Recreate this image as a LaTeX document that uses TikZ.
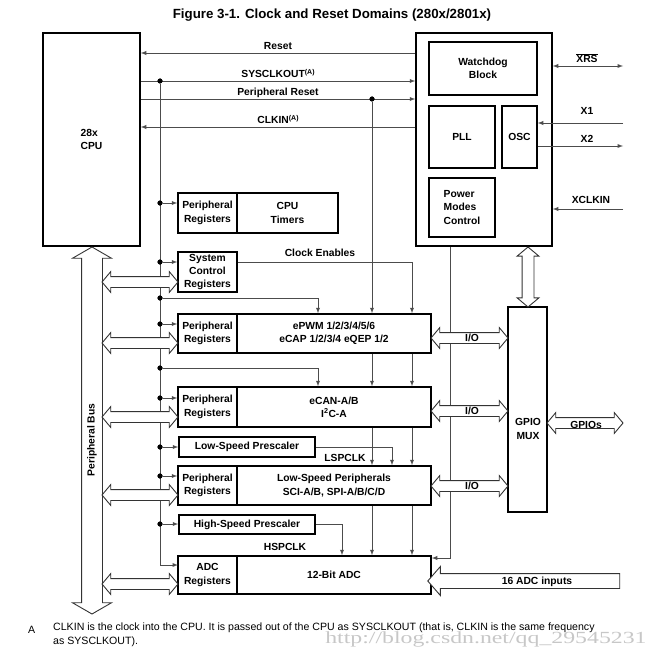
\documentclass[tikz,border=0pt]{standalone}
\usepackage{fontspec}
\setmainfont{Liberation Sans}
\newfontfamily\markfont{Liberation Serif}
\usetikzlibrary{arrows, shapes.arrows, calc}
\tikzstyle{block} = [rectangle, 
draw=black, 
line width=1.5pt, 
inner sep=0pt, 
align=center, 
font=\fontsize{10.3}{13.3}\selectfont\bfseries]
\tikzstyle{txt} = [inner sep=0pt, 
font=\fontsize{10.3}{12}\selectfont\bfseries]
\tikzstyle{wire} = [draw=black!70, line width=0.9pt]
\tikzstyle{arrow} = [wire, ->, >=latex]
\tikzstyle{darrow} = [wire, <->, >=latex]
\tikzstyle{dot} = [circle, fill=black, inner sep=0pt, minimum size=5pt]
\tikzstyle{hollow} = [double arrow, 
draw=black!80, 
line width=0.9pt, 
fill=white, 
inner sep=5pt, 
minimum width=0pt, 
double arrow head extend=5pt, 
double arrow tip angle=100]
\newcommand{\supA}{\raisebox{0.5ex}{\fontsize{7}{7}\selectfont(A)}}

\begin{document}
\begin{tikzpicture}[x=1pt, y=-1pt]
	\useasboundingbox (0,0) rectangle (655,658);
	\node (title) [txt, font=\fontsize{13.3}{15}\selectfont\bfseries] at (332,15) {Figure 3-1. Clock and Reset Domains (280x/2801x)};

	% CPU and clock block
	\node (cpu) [block, minimum width=97pt, minimum height=213pt, align=left] at (91.5,139.5) {28x\\CPU};
	\node (clk) [block, minimum width=136pt, minimum height=213pt] at (484,139.5) {};
	\node (wd) [block, minimum width=108pt, minimum height=53pt] at (483,68.5) {Watchdog\\Block};
	\node (pll) [block, minimum width=66pt, minimum height=62pt] at (462,137) {PLL};
	\node (osc) [block, minimum width=35pt, minimum height=62pt] at (519.5,137) {OSC};
	\node (pmc) [block, minimum width=66pt, minimum height=59pt, align=left] at (462,207.5) {Power\\Modes\\Control};

	% peripheral boxes
	\node (tmrreg) [block, minimum width=59pt, minimum height=40pt] at (207.5,213) {Peripheral\\Registers};
	\node (tmr) [block, minimum width=101pt, minimum height=40pt] at (287.5,213) {CPU\\Timers};
	\node (sysctl) [block, minimum width=59pt, minimum height=40pt] at (207.5,272) {System\\Control\\Registers};
	\node (epwmreg) [block, minimum width=59pt, minimum height=39pt] at (207.5,333.5) {Peripheral\\Registers};
	\node (epwm) [block, minimum width=194pt, minimum height=39pt] at (334,333.5) {ePWM 1/2/3/4/5/6\\eCAP 1/2/3/4 eQEP 1/2};
	\node (ecanreg) [block, minimum width=59pt, minimum height=40pt] at (207.5,407) {Peripheral\\Registers};
	\node (ecan) [block, minimum width=194pt, minimum height=40pt] at (334,407) {eCAN-A/B\\I\textsuperscript{2}C-A};
	\node (lsp) [block, minimum width=136pt, minimum height=20pt] at (247,447) {Low-Speed Prescaler};
	\node (lspreg) [block, minimum width=59pt, minimum height=39pt] at (207.5,485.5) {Peripheral\\Registers};
	\node (lsper) [block, minimum width=194pt, minimum height=39pt] at (334,485.5) {Low-Speed Peripherals\\SCI-A/B, SPI-A/B/C/D};
	\node (hsp) [block, minimum width=136pt, minimum height=19pt] at (247,524.5) {High-Speed Prescaler};
	\node (adcreg) [block, minimum width=59pt, minimum height=38pt] at (207.5,575) {ADC\\Registers};
	\node (adc) [block, minimum width=194pt, minimum height=38pt] at (334,575) {12-Bit ADC};
	\node (gpio) [block, minimum width=39pt, minimum height=205pt] at (527.5,409.5) {};
	\node (gpiolbl) [txt, align=center, font=\fontsize{10.3}{14}\selectfont\bfseries] at (528,429) {GPIO\\MUX};

	% lines between CPU and clock block
	\draw [arrow] (clk.west |- 0,53) -- node[txt, above=3pt] {Reset} (cpu.east |- 0,53);
	\draw [arrow] (cpu.east |- 0,81) -- node[txt, above=3pt] {SYSCLKOUT\supA} (clk.west |- 0,81);
	\draw [arrow] (cpu.east |- 0,99) -- node[txt, above=1pt] {Peripheral Reset} (clk.west |- 0,99);
	\draw [arrow] (clk.west |- 0,127) -- node[txt, above=3pt] {CLKIN\supA} (cpu.east |- 0,127);
	\node (sysdot) [dot] at (160,81) {};
	\node (prdot) [dot] at (372,99) {};

	% external pins
	\coordinate (xrs) at (623,66);
	\coordinate (x1) at (623,123);
	\coordinate (x2) at (623,146);
	\coordinate (xclk) at (623,209);
	\draw [darrow] (xrs -| clk.east) -- (xrs);
	\draw [arrow] (x1) -- (x1 -| osc.east);
	\draw [arrow] (osc.east |- x2) -- (x2);
	\draw [arrow] (xclk) -- (xclk -| clk.east);
	\node [txt] at (587,58) {$\overline{\hbox{XRS}}$};
	\node [txt] at (587,111) {X1};
	\node [txt] at (587,139) {X2};
	\node [txt] at (591,200) {XCLKIN};

	% clock bus
	\coordinate (adcin) at (178,565);
	\draw [arrow] (sysdot) |- (adcin);
	\node (b1) [dot] at (160,203) {};
	\node (b2) [dot] at (160,262) {};
	\node (b3) [dot] at (160,298) {};
	\node (b4) [dot] at (160,324) {};
	\node (b5) [dot] at (160,368) {};
	\node (b6) [dot] at (160,398) {};
	\node (b7) [dot] at (160,447) {};
	\node (b8) [dot] at (160,476) {};
	\node (b9) [dot] at (160,524) {};
	\draw [arrow] (b1) -- (b1 -| tmrreg.west);
	\draw [arrow] (b2) -- (b2 -| sysctl.west);
	\draw [arrow] (b4) -- (b4 -| epwmreg.west);
	\draw [arrow] (b6) -- (b6 -| ecanreg.west);
	\draw [arrow] (b7) -- (b7 -| lsp.west);
	\draw [arrow] (b8) -- (b8 -| lspreg.west);
	\draw [arrow] (b9) -- (b9 -| hsp.west);
	\draw [arrow] (b3) -| (epwm.north -| 318,0);
	\draw [arrow] (b5) -| (ecan.north -| 318,0);

	% peripheral reset
	\draw [arrow] (prdot) -- (prdot |- epwm.north);
	\draw [arrow] (epwm.south -| prdot) -- (ecan.north -| prdot);
	\draw [arrow] (ecan.south -| prdot) -- (lsper.north -| prdot);
	\draw [arrow] (lsper.south -| prdot) -- (adc.north -| prdot);

	% clock enables
	\draw [arrow] (sysctl.east |- 0,262) -| (epwm.north -| 412,0);
	\node [txt] at (320,253) {Clock Enables};
	\draw [arrow] (epwm.south -| 412,0) -- (ecan.north -| 412,0);
	\draw [arrow] (ecan.south -| 412,0) -- (lsper.north -| 412,0);
	\draw [arrow] (lsper.south -| 412,0) -- (adc.north -| 412,0);

	% prescaled clocks
	\draw [arrow] (lsp.east) -| (lsper.north -| 392,0);
	\draw [arrow] (hsp.east) -| (adc.north -| 342,0);
	\node [txt] at (345,458) {LSPCLK};
	\node [txt] at (285,547) {HSPCLK};
	\draw [arrow] (clk.south -| 450,0) |- (adc.east |- 0,558);

	% buses
	\node (pbus) [hollow, rotate=90, minimum height=367pt, inner sep=10pt, double arrow head extend=9pt, double arrow tip angle=120] at (92,430.5) {};
	\node [txt, rotate=90] at (92,440) {Peripheral Bus};
	\node (bus1) [hollow, minimum height=76pt] at (140,282) {};
	\node (bus2) [hollow, minimum height=76pt] at (140,343) {};
	\node (bus3) [hollow, minimum height=76pt] at (140,417) {};
	\node (bus4) [hollow, minimum height=76pt] at (140,495) {};
	\node (bus5) [hollow, minimum height=76pt] at (140,584) {};
	\node (io1) [hollow, minimum height=77pt] at (469.5,338) {};
	\node (io2) [hollow, minimum height=77pt] at (469.5,411) {};
	\node (io3) [hollow, minimum height=77pt] at (469.5,486) {};
	\node [txt] at (472,338) {I/O};
	\node [txt] at (472,411) {I/O};
	\node [txt] at (472,486) {I/O};
	\node (gpiobus) [hollow, minimum height=60pt, rotate=90, inner sep=5.5pt] at (528,277) {};
	\node (gpios) [hollow, minimum height=76pt] at (585,423) {};
	\node [txt] at (586,425) {GPIOs};
	\node (adcbus) [single arrow, draw=black!80, line width=0.9pt, fill=white, rotate=180, minimum height=192pt, minimum width=0pt, inner sep=7pt, single arrow head extend=7pt, single arrow tip angle=98] at (527,581) {};
	\node [txt] at (537,582) {16 ADC inputs};

	% redraw dots on top
	\foreach \d in {sysdot,prdot,b1,b2,b3,b4,b5,b6,b7,b8,b9}
		\fill (\d) circle (2.5pt);

	% footnote
	\node (fnA) [anchor=base west, inner sep=0pt, font=\fontsize{10.6}{14}\selectfont] at (28,633) {A};
	\node (fn) [anchor=north west, inner sep=0pt, align=left, font=\fontsize{10.6}{14}\selectfont] at (53,623) {CLKIN is the clock into the CPU. It is passed out of the CPU as SYSCLKOUT (that is, CLKIN is the same frequency\\as SYSCLKOUT).};
	\node (mark) [anchor=base west, inner sep=0pt, text=black!22, xscale=1.4, font=\markfont\fontsize{17}{17}\selectfont] at (325,643) {http://blog.csdn.net/qq\_29545231};
\end{tikzpicture}
\end{document}
